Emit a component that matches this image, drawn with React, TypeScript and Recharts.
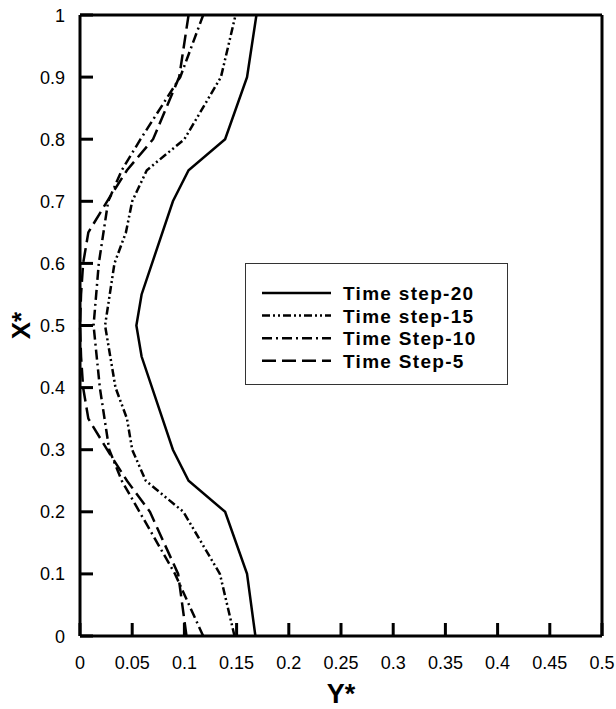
import React from "react";
import { LineChart, Line, XAxis, YAxis, ReferenceLine } from "recharts";

// ---- data (X* is vertical, Y* horizontal) ----
const step20X = [0, 0.1, 0.2, 0.25, 0.3, 0.45, 0.5, 0.55, 0.7, 0.75, 0.8, 0.9, 1];
const step20Y = [0.168, 0.16, 0.139, 0.104, 0.089, 0.059, 0.054, 0.059, 0.089, 0.104, 0.139, 0.16, 0.169];

const step15X = [0, 0.1, 0.2, 0.25, 0.3, 0.35, 0.4, 0.5, 0.6, 0.65, 0.7, 0.75, 0.8, 0.9, 1];
const step15Y = [0.148, 0.134, 0.099, 0.063, 0.05, 0.045, 0.034, 0.024, 0.033, 0.044, 0.05, 0.064, 0.1, 0.135, 0.149];

const step10X = [0, 0.1, 0.2, 0.25, 0.3, 0.4, 0.5, 0.6, 0.7, 0.75, 0.8, 0.9, 1];
const step10Y = [0.118, 0.091, 0.057, 0.04, 0.028, 0.019, 0.013, 0.018, 0.027, 0.04, 0.058, 0.096, 0.118];

const step5X = [0, 0.1, 0.2, 0.25, 0.3, 0.35, 0.4, 0.45, 0.5, 0.55, 0.6, 0.65, 0.7, 0.75, 0.8, 0.9, 1];
const step5Y = [0.102, 0.094, 0.067, 0.045, 0.026, 0.008, 0.003, 0.001, 0, 0.001, 0.003, 0.008, 0.026, 0.045, 0.07, 0.095, 0.104];

const seriesNames = ["Time step-20", "Time step-15", "Time Step-10", "Time Step-5"];
const seriesDash = ["", "8 3 2 3 2 3", "10 4 2 4", "14 6"];

const xMajorTicks = [0, 0.05, 0.1, 0.15, 0.2, 0.25, 0.3, 0.35, 0.4, 0.45, 0.5];
const xTickLabels = ["0", "0.05", "0.1", "0.15", "0.2", "0.25", "0.3", "0.35", "0.4", "0.45", "0.5"];
const yMajorTicks = [0, 0.1, 0.2, 0.3, 0.4, 0.5, 0.6, 0.7, 0.8, 0.9, 1];
const yTickLabels = ["0", "0.1", "0.2", "0.3", "0.4", "0.5", "0.6", "0.7", "0.8", "0.9", "1"];

const isOn = (v: number, list: number[]) => list.some((m) => Math.abs(m - v) < 1e-6);
const xMinorTicks = Array.from({ length: 51 }, (_, i) => i / 100).filter((v) => !isOn(v, xMajorTicks));
const yMinorTicks = Array.from({ length: 51 }, (_, i) => (i * 2) / 100).filter((v) => !isOn(v, yMajorTicks));

const toRows = (xs: number[], ys: number[]) => xs.map((x, i) => ({ xs: x, ys: ys[i] }));
const seriesData = [
  toRows(step20X, step20Y),
  toRows(step15X, step15Y),
  toRows(step10X, step10Y),
  toRows(step5X, step5Y),
];

const FONT = "Liberation Sans, Arial, Helvetica, sans-serif";
const MAJOR_LEN = 13;
const MINOR_LEN = 7;

const findMajor = (v: number, majors: number[]) =>
  majors.findIndex((m) => Math.abs(m - v) < 1e-6);

// label of a major x tick; y is the inner end of the (inward) tick line
const XTickLabel = (props: any) => {
  const x = Number(props.x);
  const y = Number(props.y);
  const idx = findMajor(props.payload.value, xMajorTicks);
  if (idx < 0) return <g />;
  return (
    <text x={x} y={y + MAJOR_LEN + 33} textAnchor="middle" fontSize={18} fontFamily={FONT} fill="#000" stroke="none">
      {xTickLabels[idx]}
    </text>
  );
};

const YTickLabel = (props: any) => {
  const x = Number(props.x);
  const y = Number(props.y);
  const idx = findMajor(props.payload.value, yMajorTicks);
  if (idx < 0) return <g />;
  return (
    <text x={x - MAJOR_LEN - 15} y={y + 6.5} textAnchor="end" fontSize={18} fontFamily={FONT} fill="#000" stroke="none">
      {yTickLabels[idx]}
    </text>
  );
};

const NoLabel = () => <g />;

const LegendBox = () => (
  <div
    style={{
      position: "absolute",
      left: 245,
      top: 263,
      width: 263,
      height: 122,
      border: "1px solid #333",
      boxSizing: "border-box",
      background: "#fff",
    }}
  >
    <svg width={261} height={120} style={{ display: "block" }}>
      {seriesNames.map((name, i) => {
        const cy = 29 + i * 22.6;
        return (
          <g key={name}>
            <line
              x1={16}
              x2={85}
              y1={cy}
              y2={cy}
              stroke="#000"
              strokeWidth={2.5}
              strokeDasharray={seriesDash[i] || undefined}
            />
            <text x={97} y={cy + 7} fontSize={19} fontWeight="bold" fontFamily={FONT} letterSpacing={1.3} fill="#000">
              {name}
            </text>
          </g>
        );
      })}
    </svg>
  </div>
);

const AxisTitles = () => (
  <svg width={616} height={709} style={{ position: "absolute", left: 0, top: 0, pointerEvents: "none" }}>
    <text x={341} y={703} textAnchor="middle" fontSize={27} fontWeight="bold" fontFamily={FONT} fill="#000">
      Y*
    </text>
    <text
      x={21}
      y={334.5}
      transform="rotate(-90 21 325.5)"
      textAnchor="middle"
      fontSize={26}
      fontWeight="bold"
      fontFamily={FONT}
      fill="#000"
    >
      X*
    </text>
  </svg>
);

export default function App() {
  return (
    <div style={{ position: "absolute", left: 0, top: 0, width: 616, height: 709, background: "#fff" }}>
      <LineChart width={616} height={709} layout="vertical" margin={{ top: 15, right: 14, bottom: 3, left: 10 }}>
        {/* minor tick axes (no labels, zero size, next to the plot) */}
        <XAxis
          xAxisId="minor"
          type="number"
          domain={[0, 0.5]}
          ticks={xMinorTicks}
          interval={0}
          height={0}
          tickSize={-MINOR_LEN}
          tickLine={{ stroke: "#000", strokeWidth: 1.5 }}
          axisLine={false}
          tick={NoLabel}
        />
        <YAxis
          yAxisId="minor"
          type="number"
          domain={[0, 1]}
          reversed
          ticks={yMinorTicks}
          interval={0}
          width={0}
          tickSize={-MINOR_LEN}
          tickLine={{ stroke: "#000", strokeWidth: 1.5 }}
          axisLine={false}
          tick={NoLabel}
        />
        {/* main axes with major ticks */}
        <XAxis
          type="number"
          domain={[0, 0.5]}
          ticks={xMajorTicks}
          interval={0}
          height={70}
          tickSize={-MAJOR_LEN}
          tickMargin={0}
          tickLine={{ stroke: "#000", strokeWidth: 3 }}
          axisLine={{ stroke: "#000", strokeWidth: 3 }}
          tick={(p: any) => <XTickLabel {...p} />}
        />
        <YAxis
          type="number"
          dataKey="xs"
          domain={[0, 1]}
          reversed
          ticks={yMajorTicks}
          interval={0}
          width={70}
          tickSize={-MAJOR_LEN}
          tickMargin={0}
          tickLine={{ stroke: "#000", strokeWidth: 3 }}
          axisLine={{ stroke: "#000", strokeWidth: 3 }}
          tick={(p: any) => <YTickLabel {...p} />}
        />
        <ReferenceLine y={1} stroke="#000" strokeWidth={3} ifOverflow="visible" />
        <ReferenceLine x={0.5} stroke="#000" strokeWidth={3} ifOverflow="visible" />
        {seriesNames.map((name, i) => (
          <Line
            key={name}
            name={name}
            data={seriesData[i]}
            dataKey="ys"
            type="linear"
            stroke="#000"
            strokeWidth={2.5}
            strokeDasharray={seriesDash[i] || undefined}
            dot={false}
            activeDot={false}
            isAnimationActive={false}
          />
        ))}
      </LineChart>
      <AxisTitles />
      <LegendBox />
    </div>
  );
}
